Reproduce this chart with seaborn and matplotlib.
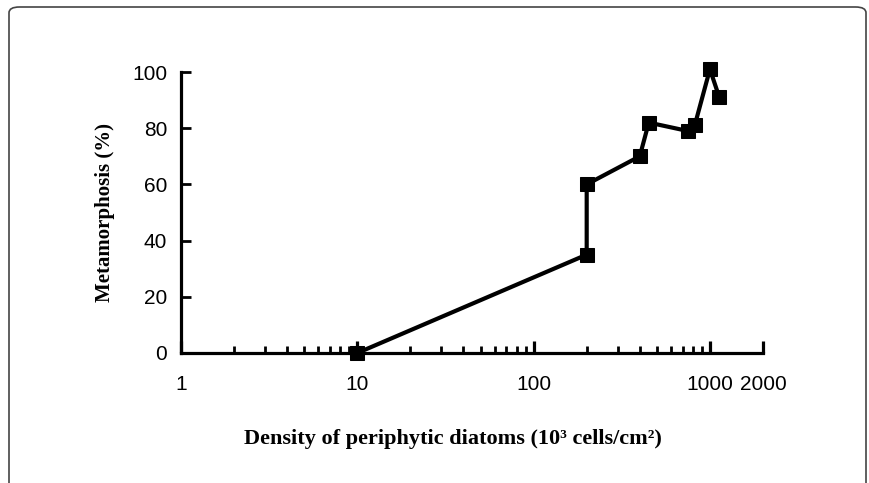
import matplotlib
matplotlib.use("Agg")
import matplotlib.pyplot as plt
import seaborn as sns
import pandas as pd
import numpy as np
from matplotlib.patches import FancyBboxPatch
from matplotlib.ticker import FixedLocator, NullFormatter

density = [10, 200, 200, 400, 450, 750, 820, 1000, 1130]
metamorphosis = [0, 35, 60, 70, 82, 79, 81, 101, 91]
xtick_values = [1, 10, 100, 1000, 2000]
xtick_labels = ["1", "10", "100", "1000", "2000"]
ytick_values = [0, 20, 40, 60, 80, 100]

df = pd.DataFrame({"density": density, "meta": metamorphosis})

sns.set_theme(style="white")
plt.rcParams['font.family'] = ['Liberation Sans', 'DejaVu Sans']
plt.rcParams['text.color'] = 'black'
plt.rcParams['xtick.color'] = 'black'
plt.rcParams['ytick.color'] = 'black'
plt.rcParams['xtick.labelcolor'] = 'black'
plt.rcParams['ytick.labelcolor'] = 'black'
plt.rcParams['axes.labelcolor'] = 'black'

fig = plt.figure(figsize=(8.69, 4.83), dpi=100)
ax = fig.add_axes([181/869, 1-353/483, (763-181)/869, (353-72)/483])

sns.lineplot(data=df, x="density", y="meta", ax=ax, sort=False, estimator=None,
             color="black", linewidth=3, marker="s", markersize=10.5,
             markerfacecolor="black", markeredgecolor="black", clip_on=False)

ax.set_xscale("log")
ax.set_xlim(1, 2000)
ax.set_ylim(0, 100)

for s in ["top", "right"]:
    ax.spines[s].set_visible(False)
for s in ["left", "bottom"]:
    ax.spines[s].set_linewidth(2.3)
    ax.spines[s].set_color("black")

ax.xaxis.set_major_locator(FixedLocator(xtick_values))
ax.set_xticklabels(xtick_labels)
minor = [m * d for d in [1, 10, 100] for m in range(2, 10)]
ax.xaxis.set_minor_locator(FixedLocator(minor))
ax.xaxis.set_minor_formatter(NullFormatter())
ax.set_yticks(ytick_values)

ax.tick_params(axis="x", which="major", direction="in", length=9, width=2.3,
               labelsize=15, pad=16, bottom=True, colors="black")
ax.tick_params(axis="x", which="minor", direction="in", length=5, width=2,
               bottom=True, colors="black")
ax.tick_params(axis="y", which="major", direction="in", length=7, width=2,
               labelsize=15, pad=10, left=True, colors="black")
for lab in ax.get_xticklabels() + ax.get_yticklabels():
    lab.set_family(['Liberation Sans', 'DejaVu Sans'])
    lab.set_color("black")

ax.set_xlabel("")
ax.set_ylabel("")
fig.text(105/869, 1-212/483, "Metamorphosis (%)", rotation=90, ha="center", va="center",
         fontsize=15, fontweight="bold", color="black",
         family=["Liberation Serif", "DejaVu Serif"])
fig.text(453/869, 1-439/483, "Density of periphytic diatoms (10³ cells/cm²)", ha="center",
         va="center", fontsize=16, fontweight="bold", color="black",
         family=["Liberation Serif", "DejaVu Serif"])

border = FancyBboxPatch((9/869, -0.05), (866-9)/869, (1-7/483)+0.05,
                        boxstyle="round,pad=0,rounding_size=0.012",
                        transform=fig.transFigure, fill=False,
                        edgecolor="#444444", linewidth=1.2)
fig.patches.append(border)

fig.savefig("out.png", dpi=100)
